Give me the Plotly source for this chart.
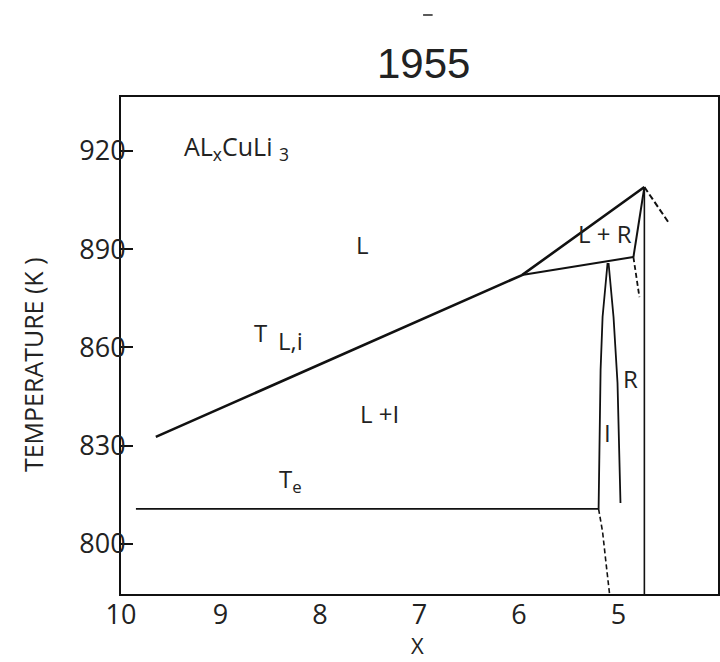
import plotly.graph_objects as go

# Phase diagram of Al_x CuLi_3: temperature (K) vs composition x
# Liquidus of the I phase (two segments meeting at the peritectic point)
liquidus_x = [9.65, 5.97, 4.74]
liquidus_T = [832.7, 882.1, 909.0]

# Peritectic tie line L + I / L + R
tie_x = [5.97, 4.85]
tie_T = [882.1, 887.6]

# R-phase liquidus and solidus
r_liq_x = [4.85, 4.74]
r_liq_T = [887.6, 909.0]
r_vert_x = [4.74, 4.74]
r_vert_T = [909.0, 784.7]

# Uncertain (dashed) boundaries
r_dash_x = [4.85, 4.79]
r_dash_T = [887.6, 875.4]
apex_dash_x = [4.74, 4.50]
apex_dash_T = [909.0, 898.3]
i_dash_x = [5.20, 5.16, 5.13, 5.09]
i_dash_T = [810.7, 803.7, 795.4, 784.7]

# I-phase field boundaries
i_left_x = [5.11, 5.16, 5.18, 5.20]
i_left_T = [885.8, 869.3, 853.1, 810.7]
i_right_x = [5.10, 5.05, 5.01, 4.98]
i_right_T = [885.8, 869.3, 849.2, 812.5]

# Eutectic temperature T_e
eut_x = [9.85, 5.20]
eut_T = [810.7, 810.7]

x_ticks = [10, 9, 8, 7, 6, 5, 4]
y_ticks = [800, 830, 860, 890, 920]

LINE = "#111111"
TXT = "#222222"
FONT = "Open Sans"

fig = go.Figure()


def add_line(xs, ys, width=2.0, dash=None):
    fig.add_trace(go.Scatter(
        x=xs, y=ys, mode="lines",
        line=dict(color=LINE, width=width, dash=dash),
        hoverinfo="skip", showlegend=False,
    ))


add_line(liquidus_x, liquidus_T, width=2.6)
add_line(tie_x, tie_T, width=2.0)
add_line(r_liq_x, r_liq_T, width=2.0)
add_line(r_vert_x, r_vert_T, width=1.6)
add_line(i_left_x, i_left_T, width=1.8)
add_line(i_right_x, i_right_T, width=1.8)
add_line(eut_x, eut_T, width=1.6)
add_line(r_dash_x, r_dash_T, width=1.8, dash="5px,3px")
add_line(apex_dash_x, apex_dash_T, width=2.0, dash="6px,3px")
add_line(i_dash_x, i_dash_T, width=1.6, dash="5px,3px")

# Region labels
labels = [
    ("L", 7.57, 891.3),
    ("L + R", 5.14, 894.7),
    ("L +I", 7.40, 839.7),
    ("R", 4.88, 850.4),
    ("I", 5.11, 833.9),
    ("T<sub>e</sub>", 8.30, 819.5),
]
for text, lx, ly in labels:
    fig.add_annotation(x=lx, y=ly, text=text, showarrow=False,
                       xanchor="center", yanchor="middle",
                       font=dict(family=FONT, size=24, color=TXT))

# T_L,i label: subscript drawn at full size
fig.add_annotation(x=8.60, y=864.5, text="T", showarrow=False,
                   xanchor="center", yanchor="middle",
                   font=dict(family=FONT, size=24, color=TXT))
fig.add_annotation(x=8.30, y=862.0, text="L,i", showarrow=False,
                   xanchor="center", yanchor="middle",
                   font=dict(family=FONT, size=24, color=TXT))

# Compound formula
fig.add_annotation(x=9.39, y=921.0, text="AL<sub>x</sub>CuLi <sub>3</sub>",
                   showarrow=False, xanchor="left", yanchor="middle",
                   font=dict(family=FONT, size=25, color=TXT))

# Axis titles
fig.add_annotation(xref="paper", yref="paper", x=0.496, y=-0.1026,
                   text="X", showarrow=False,
                   xanchor="center", yanchor="middle",
                   font=dict(family=FONT, size=22, color=TXT))
fig.add_annotation(xref="paper", yref="paper", x=-0.147, y=0.461,
                   text="TEMPERATURE (K )", textangle=-90, showarrow=False,
                   xanchor="center", yanchor="middle",
                   font=dict(family=FONT, size=25, color=TXT))

# Year heading
fig.add_annotation(xref="paper", yref="paper", x=0.506, y=1.067,
                   text="1955", showarrow=False,
                   xanchor="center", yanchor="middle",
                   font=dict(family="Liberation Sans Narrow, Arial Narrow, Liberation Sans",
                             size=42, color=TXT))
fig.add_shape(type="line", xref="paper", yref="paper",
              x0=0.506, x1=0.522, y0=1.165, y1=1.165,
              line=dict(color=TXT, width=1.5))

fig.update_xaxes(
    range=[10, 4], tickvals=x_ticks, ticktext=[str(v) for v in x_ticks],
    showline=True, linecolor=LINE, linewidth=2, mirror=True,
    ticks="", showgrid=False, zeroline=False,
    ticklabelstandoff=-4,
    tickfont=dict(family=FONT, size=27, color=TXT),
)
fig.update_yaxes(
    range=[784.7, 936.5], tickvals=y_ticks, ticktext=[str(v) for v in y_ticks],
    showline=True, linecolor=LINE, linewidth=2, mirror=True,
    ticks="inside", ticklen=12, tickwidth=2, tickcolor=LINE,
    showgrid=False, zeroline=False,
    ticklabelstandoff=-12,
    tickfont=dict(family=FONT, size=27, color=TXT),
)
fig.update_layout(
    width=720, height=662,
    margin=dict(l=121, r=0, t=97, b=68),
    paper_bgcolor="white", plot_bgcolor="white",
    showlegend=False,
)

fig.write_html("out.html")
